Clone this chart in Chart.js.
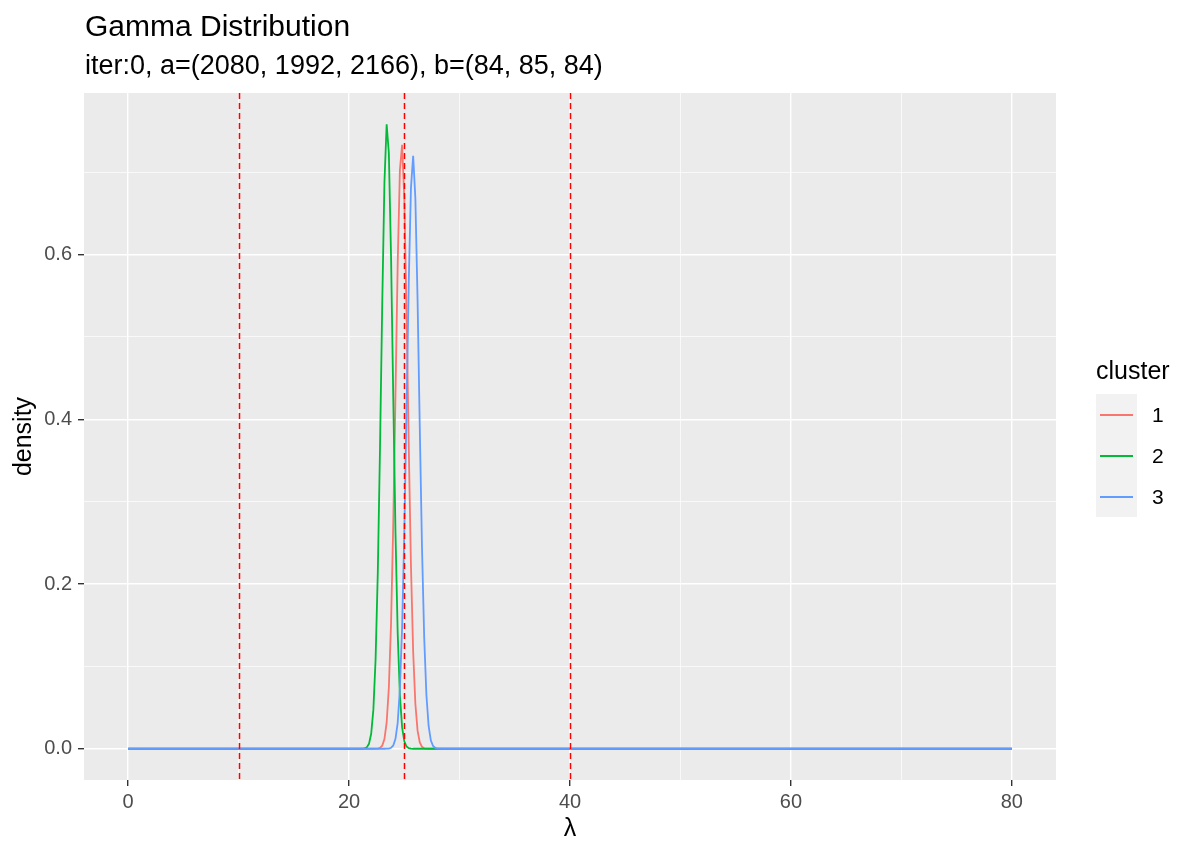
<!DOCTYPE html>
<html>
<head>
<meta charset="utf-8">
<script src="https://cdn.jsdelivr.net/npm/chart.js@4.4.1/dist/chart.umd.min.js"></script>
<style>
  html, body { margin: 0; padding: 0; background: #ffffff; }
  #wrap { position: relative; width: 1200px; height: 857px; font-family: "Liberation Sans", Arial, sans-serif; }
  #c { position: absolute; left: 0; top: 0; }
  .txt { position: absolute; white-space: nowrap; color: #000; }
  #title { left: 85px; top: 11px; font-size: 30px; line-height: 30px; }
  #subtitle { left: 85px; top: 52px; font-size: 27px; line-height: 27px; }
  #legTitle { left: 1096px; top: 358px; font-size: 25px; line-height: 25px; }
  #legKeys { position: absolute; left: 1096px; top: 394px; width: 41px; height: 123px; background: #F2F2F2; }
  .key { position: absolute; left: 4px; width: 33px; height: 2px; }
  .lab { position: absolute; left: 1152px; font-size: 21px; line-height: 21px; color: #000; }
</style>
</head>
<body>
<div id="wrap">
  <canvas id="c" width="1200" height="857"></canvas>
  <div class="txt" id="title">Gamma Distribution</div>
  <div class="txt" id="subtitle">iter:0, a=(2080, 1992, 2166), b=(84, 85, 84)</div>
  <div class="txt" id="legTitle">cluster</div>
  <div id="legKeys"></div>
</div>
<script>
// ---- data ----
const clusterNames = ['1', '2', '3'];
const clusterColors = ['#F8766D', '#00BA38', '#619CFF'];
const lambda = [0, 20.8, 21.0, 21.2, 21.4, 21.6, 21.8, 22.0, 22.2, 22.4, 22.6, 22.8, 23.0, 23.2, 23.4, 23.6, 23.8, 24.0, 24.2, 24.4, 24.6, 24.8, 25.0, 25.2, 25.4, 25.6, 25.8, 26.0, 26.2, 26.4, 26.6, 26.8, 27.0, 27.2, 27.4, 27.6, 27.8, 28.0, 28.2, 28.4, 80];
const density1 = [0, 0, 0, 0, 0, 0, 0, 0, 0, 0.0001, 0.0003, 0.0011, 0.0038, 0.0117, 0.0316, 0.0744, 0.1528, 0.2744, 0.4300, 0.5884, 0.7028, 0.7330, 0.6675, 0.5307, 0.3684, 0.2232, 0.1181, 0.0546, 0.0220, 0.0078, 0.0024, 0.0006, 0.0001, 0, 0, 0, 0, 0, 0, 0, 0];
const density2 = [0, 0, 0, 0.0001, 0.0004, 0.0017, 0.0060, 0.0182, 0.0478, 0.1089, 0.2146, 0.3658, 0.5392, 0.6874, 0.7581, 0.7232, 0.5967, 0.4259, 0.2629, 0.1403, 0.0648, 0.0259, 0.0090, 0.0027, 0.0007, 0.0002, 0, 0, 0, 0, 0, 0, 0, 0, 0, 0, 0, 0, 0, 0, 0];
const density3 = [0, 0, 0, 0, 0, 0, 0, 0, 0, 0, 0, 0, 0, 0, 0.0001, 0.0003, 0.0012, 0.0040, 0.0120, 0.0315, 0.0728, 0.1477, 0.2632, 0.4115, 0.5649, 0.6806, 0.7199, 0.6683, 0.5447, 0.3896, 0.2447, 0.1349, 0.0653, 0.0277, 0.0103, 0.0034, 0.0010, 0.0002, 0.0001, 0, 0];
const cutLines = [10, 25, 40];
const xTickValues = [0, 10, 20, 30, 40, 50, 60, 70, 80];
const yTickValues = [0, 0.1, 0.2, 0.3, 0.4, 0.5, 0.6, 0.7];

// ---- legend (HTML) ----
const keys = document.getElementById('legKeys');
clusterNames.forEach((n, i) => {
  const k = document.createElement('div');
  k.className = 'key';
  k.style.top = (20 + i * 41) + 'px';
  k.style.background = clusterColors[i];
  keys.appendChild(k);
  const l = document.createElement('div');
  l.className = 'lab';
  l.textContent = n;
  l.style.top = (404 + i * 41) + 'px';
  document.getElementById('wrap').appendChild(l);
});

// ---- scale limits (ggplot 5% expansion) ----
const allY = density1.concat(density2, density3);
const yLo = Math.min(...allY), yHi = Math.max(...allY);
const xLo = Math.min(...lambda), xHi = Math.max(...lambda);
const yPad = (yHi - yLo) * 0.05, xPad = (xHi - xLo) * 0.05;

const series = [density1, density2, density3];
const datasets = series.map((d, i) => ({
  label: clusterNames[i],
  data: lambda.map((x, j) => ({ x: x, y: d[j] })),
  borderColor: clusterColors[i],
  backgroundColor: clusterColors[i],
  borderWidth: 1.8,
  pointRadius: 0,
  tension: 0,
  fill: false,
  order: 3 - i
}));

const panelBg = {
  id: 'panelBg',
  beforeDraw(chart) {
    const a = chart.chartArea, ctx = chart.ctx;
    ctx.save();
    ctx.fillStyle = '#EBEBEB';
    ctx.fillRect(a.left, a.top, a.right - a.left, a.bottom - a.top);
    ctx.restore();
  }
};
const vlines = {
  id: 'vlines',
  afterDatasetsDraw(chart) {
    const a = chart.chartArea, ctx = chart.ctx, xs = chart.scales.x;
    ctx.save();
    ctx.beginPath();
    ctx.rect(a.left, a.top, a.right - a.left, a.bottom - a.top);
    ctx.clip();
    ctx.strokeStyle = '#FF0000';
    ctx.lineWidth = 1.5;
    ctx.setLineDash([6, 4]);
    cutLines.forEach(v => {
      const px = Math.round(xs.getPixelForValue(v)) + 0.5;
      ctx.beginPath();
      ctx.moveTo(px, a.top);
      ctx.lineTo(px, a.bottom);
      ctx.stroke();
    });
    ctx.restore();
  }
};

const isMajorX = v => Math.round(v) % 20 === 0;
const isMajorY = v => Math.round(v * 10) % 2 === 0;
const font = { family: '"Liberation Sans", Arial, sans-serif' };

new Chart(document.getElementById('c'), {
  type: 'line',
  data: { datasets },
  options: {
    responsive: false,
    animation: false,
    layout: { padding: { top: 93, right: 144, bottom: 0, left: 0 } },
    plugins: { legend: { display: false }, title: { display: false }, tooltip: { enabled: false } },
    scales: {
      x: {
        type: 'linear',
        min: xLo - xPad,
        max: xHi + xPad,
        afterBuildTicks: s => { s.ticks = xTickValues.map(v => ({ value: v })); },
        afterFit: s => { s.height = 77; },
        ticks: {
          autoSkip: false, maxRotation: 0, padding: 4, color: '#4D4D4D',
          font: Object.assign({ size: 20 }, font),
          callback: v => isMajorX(v) ? String(v) : ''
        },
        grid: {
          color: '#FFFFFF',
          lineWidth: c => isMajorX(c.tick.value) ? 1.4 : 0.7,
          tickLength: 6,
          tickColor: c => isMajorX(c.tick.value) ? '#333333' : 'rgba(0,0,0,0)',
          tickWidth: 1.4
        },
        border: { display: false },
        title: { display: true, text: 'λ', color: '#000', padding: { top: 0, bottom: 13 }, font: Object.assign({ size: 25 }, font) }
      },
      y: {
        type: 'linear',
        min: yLo - yPad,
        max: yHi + yPad,
        afterBuildTicks: s => { s.ticks = yTickValues.map(v => ({ value: v })); },
        afterFit: s => { s.width = 84; },
        ticks: {
          autoSkip: false, padding: 6, color: '#4D4D4D',
          font: Object.assign({ size: 20 }, font),
          callback: v => isMajorY(v) ? v.toFixed(1) : ''
        },
        grid: {
          color: '#FFFFFF',
          lineWidth: c => isMajorY(c.tick.value) ? 1.4 : 0.7,
          tickLength: 6,
          tickColor: c => isMajorY(c.tick.value) ? '#333333' : 'rgba(0,0,0,0)',
          tickWidth: 1.4
        },
        border: { display: false },
        title: { display: true, text: 'density', color: '#000', padding: { top: 9, bottom: 0 }, font: Object.assign({ size: 25 }, font) }
      }
    }
  },
  plugins: [panelBg, vlines]
});
</script>
</body>
</html>
